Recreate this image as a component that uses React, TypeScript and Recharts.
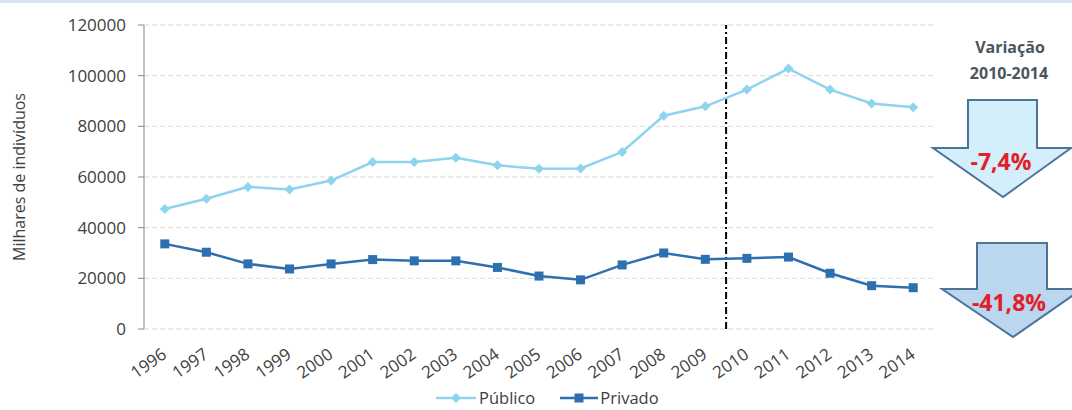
import React from "react";
import {
  LineChart,
  Line,
  XAxis,
  YAxis,
  CartesianGrid,
  Legend,
  ReferenceLine,
} from "recharts";

const years = [
  1996, 1997, 1998, 1999, 2000, 2001, 2002, 2003, 2004, 2005, 2006, 2007,
  2008, 2009, 2010, 2011, 2012, 2013, 2014,
];
const publico = [
  47400, 51400, 56100, 55100, 58600, 65900, 65900, 67600, 64600, 63300,
  63400, 69900, 84200, 87900, 94500, 102800, 94500, 89000, 87500,
];
const privado = [
  33600, 30300, 25700, 23700, 25700, 27400, 26900, 26900, 24300, 20900,
  19400, 25300, 30000, 27500, 27900, 28400, 22000, 17100, 16300,
];
const yTicks = [0, 20000, 40000, 60000, 80000, 100000, 120000];
const boundaryTicks = [...years.map((y) => y - 0.5), 2014.5];

const data = years.map((year, i) => ({
  year,
  publico: publico[i],
  privado: privado[i],
}));

const FONT = "'Open Sans', sans-serif";
const TXT = "#404040";
const LIGHT = "#8ED3F0";
const DARK = "#2E6FB0";

const Diamond = (props: any) => {
  const { cx, cy } = props;
  if (cx == null || cy == null) return null;
  return (
    <path
      d={`M${cx},${cy - 5}L${cx + 5},${cy}L${cx},${cy + 5}L${cx - 5},${cy}Z`}
      fill={LIGHT}
    />
  );
};

const Square = (props: any) => {
  const { cx, cy } = props;
  if (cx == null || cy == null) return null;
  return <rect x={cx - 4.5} y={cy - 4.5} width={9} height={9} fill={DARK} />;
};

const YearTick = (props: any) => {
  const { x, payload } = props;
  const ax = x + 3;
  const ay = 357;
  return (
    <text
      x={ax}
      y={ay}
      textAnchor="end"
      transform={`rotate(-35 ${ax} ${ay})`}
      fontFamily={FONT}
      fontSize={17}
      fill={TXT}
    >
      {payload.value}
    </text>
  );
};

const renderLegend = () => (
  <div
    style={{
      display: "flex",
      alignItems: "center",
      height: 20,
      lineHeight: "20px",
      fontFamily: FONT,
      fontSize: 16.5,
      color: TXT,
      whiteSpace: "nowrap",
    }}
  >
    <svg width={43} height={12}>
      <line x1={0} y1={6} x2={40} y2={6} stroke={LIGHT} strokeWidth={2.5} />
      <path d="M20,1L25,6L20,11L15,6Z" fill={LIGHT} />
    </svg>
    <span style={{ marginRight: 25 }}>Público</span>
    <svg width={40} height={12}>
      <line x1={0} y1={6} x2={38} y2={6} stroke={DARK} strokeWidth={2.5} />
      <rect x={14.5} y={1.5} width={9} height={9} fill={DARK} />
    </svg>
    <span>Privado</span>
  </div>
);

export default function App() {
  return (
    <div
      style={{
        position: "absolute",
        left: 0,
        top: 0,
        width: 1072,
        height: 410,
        background: "#fff",
        overflow: "hidden",
      }}
    >
      <div
        style={{
          position: "absolute",
          left: 0,
          top: 0,
          width: 1072,
          height: 3,
          background: "#DCE6F2",
        }}
      />
      <LineChart
        width={1072}
        height={410}
        data={data}
        margin={{ top: 25, right: 138, left: 0, bottom: 0 }}
      >
        <CartesianGrid
          vertical={false}
          stroke="#D9D9D9"
          strokeDasharray="5 3"
          yAxisId="y"
          xAxisId="lbl"
        />
        <XAxis
          xAxisId="lbl"
          dataKey="year"
          type="number"
          domain={[1995.5, 2014.5]}
          ticks={years}
          interval={0}
          tickLine={false}
          axisLine={false}
          tick={<YearTick />}
          height={81}
        />
        <XAxis
          xAxisId="grid"
          dataKey="year"
          type="number"
          domain={[1995.5, 2014.5]}
          ticks={boundaryTicks}
          interval={0}
          tick={false}
          tickSize={7}
          tickLine={{ stroke: "#868686" }}
          axisLine={{ stroke: "#868686" }}
          height={0}
        />
        <YAxis
          yAxisId="y"
          width={144}
          domain={[0, 120000]}
          ticks={yTicks}
          interval={0}
          tickSize={6}
          tickMargin={12}
          tickLine={{ stroke: "#868686" }}
          axisLine={{ stroke: "#868686" }}
          tick={{ fontFamily: FONT, fontSize: 17, fill: TXT }}
          label={{
            value: "Milhares de indivíduos",
            angle: -90,
            position: "insideLeft",
            offset: 19,
            style: {
              fontFamily: FONT,
              fontSize: 16,
              fill: TXT,
              textAnchor: "middle",
            },
          }}
        />
        <ReferenceLine
          xAxisId="lbl"
          yAxisId="y"
          x={2009.5}
          stroke="#000"
          strokeWidth={2}
          strokeDasharray="7 3 2 3"
        />
        <Line
          xAxisId="lbl"
          yAxisId="y"
          dataKey="publico"
          name="Público"
          stroke={LIGHT}
          strokeWidth={2.5}
          dot={<Diamond />}
          activeDot={false}
          isAnimationActive={false}
        />
        <Line
          xAxisId="lbl"
          yAxisId="y"
          dataKey="privado"
          name="Privado"
          stroke={DARK}
          strokeWidth={2.5}
          dot={<Square />}
          activeDot={false}
          isAnimationActive={false}
        />
        <Legend
          layout="horizontal"
          verticalAlign="middle"
          align="center"
          content={renderLegend}
          wrapperStyle={{ top: 388, left: 436, width: 260, height: 20 }}
        />
      </LineChart>
      <svg
        width={1072}
        height={410}
        style={{ position: "absolute", left: 0, top: 0, pointerEvents: "none" }}
      >
        <g fontFamily={FONT} fontWeight="bold" textAnchor="middle">
          <text x={1010} y={53} fontSize={16} fill="#4A5560">
            Variação
          </text>
          <text x={1009} y={79} fontSize={16} fill="#4A5560">
            2010-2014
          </text>
          <path
            d="M968,100L1037,100L1037,148L1071,148L1003,197L933,148L968,148Z"
            fill="#D3EFFB"
            stroke="#4E7399"
            strokeWidth={2}
            strokeLinejoin="miter"
          />
          <text x={1001} y={170} fontSize={23} fill="#E2202A">
            -7,4%
          </text>
          <path
            d="M977,243L1047,243L1047,289L1082,289L1013,337L942,289L977,289Z"
            fill="#BBD6EF"
            stroke="#4E7399"
            strokeWidth={2}
          />
          <text x={1009} y={311} fontSize={23} fill="#E2202A">
            -41,8%
          </text>
        </g>
      </svg>
    </div>
  );
}
